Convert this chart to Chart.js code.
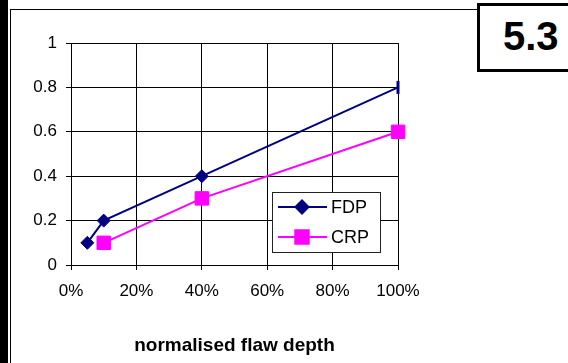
<!DOCTYPE html>
<html>
<head>
<meta charset="utf-8">
<script src="https://cdn.jsdelivr.net/npm/chart.js@4/dist/chart.umd.min.js"></script>
<style>
  html, body { margin: 0; padding: 0; background: #fff; }
  body { width: 568px; height: 363px; position: relative; overflow: hidden; }
  #edge { position: absolute; left: 0; top: 0; width: 8px; height: 363px; background: #000; }
  #frame { position: absolute; left: 10px; top: 9px; width: 700px; height: 500px;
           border-left: 1px solid #000; border-top: 1px solid #000; }
  #wrap { position: absolute; left: 0; top: 0; width: 568px; height: 363px; }
  #badge { position: absolute; left: 477px; top: 3px; width: 120px; height: 63px;
           border: 3px solid #000; background: #fff; z-index: 2;
           font: bold 40px "Liberation Sans", Arial, sans-serif; color: #000; }
  #badge span { position: absolute; left: 23px; top: 7px; line-height: 46px; }
</style>
</head>
<body>
<div id="edge"></div>
<div id="frame"></div>
<div id="wrap"><canvas id="c" width="568" height="363"></canvas></div>
<div id="badge"><span>5.3</span></div>
<script>
// normalised flaw depth (fraction) and values for each series
const fdpDepth = [0.05, 0.10, 0.40, 1.00];
const fdpValue = [0.1, 0.2, 0.4, 0.8];
const crpDepth = [0.10, 0.40, 1.00];
const crpValue = [0.1, 0.3, 0.6];

const xTickValues = [0, 0.2, 0.4, 0.6, 0.8, 1.0];
const xTickLabels = ['0%', '20%', '40%', '60%', '80%', '100%'];
const yTickValues = [0, 0.2, 0.4, 0.6, 0.8, 1.0];
const yTickLabels = ['0', '0.2', '0.4', '0.6', '0.8', '1'];

const seriesNames = ['FDP', 'CRP'];

const FONT = '"Liberation Sans", Arial, sans-serif';
const NAVY = '#000080';
const MAGENTA = '#FF00FF';

function toPoints(xs, ys) { return xs.map((x, i) => ({ x: x, y: ys[i] })); }

function labelFor(values, labels, v) {
  const i = values.findIndex(t => Math.abs(t - v) < 1e-6);
  return i >= 0 ? labels[i] : '';
}

// Boxed legend sitting inside the lower-right of the plot
const boxLegend = {
  id: 'boxLegend',
  afterDatasetsDraw(chart) {
    const { ctx, chartArea } = chart;
    const left = chartArea.right - 126, top = chartArea.bottom - 73;
    const w = 108, h = 60;
    ctx.save();
    ctx.fillStyle = '#fff';
    ctx.fillRect(left, top, w, h);
    ctx.strokeStyle = '#222';
    ctx.lineWidth = 1;
    ctx.strokeRect(left + 0.5, top + 0.5, w, h);
    chart.data.datasets.forEach((ds, i) => {
      const y = top + 15 + i * 30;
      ctx.strokeStyle = ds.borderColor;
      ctx.lineWidth = 2;
      ctx.beginPath();
      ctx.moveTo(left + 6, y);
      ctx.lineTo(left + 55, y);
      ctx.stroke();
      Chart.helpers.drawPoint(ctx, {
        pointStyle: ds.legendStyle,
        radius: ds.legendRadius,
        rotation: 0,
        borderWidth: 1
      }, left + 30, y);
      ctx.fillStyle = ds.backgroundColor;
      ctx.fill();
      ctx.fillStyle = '#000';
      ctx.font = '18px ' + FONT;
      ctx.textBaseline = 'middle';
      ctx.textAlign = 'left';
      ctx.fillText(ds.label, left + 59, y + 1);
    });
    ctx.restore();
  }
};

new Chart(document.getElementById('c'), {
  type: 'scatter',
  data: {
    datasets: [
      {
        label: seriesNames[0],
        data: toPoints(fdpDepth, fdpValue),
        showLine: true,
        clip: false,
        borderColor: NAVY,
        backgroundColor: NAVY,
        borderWidth: 2,
        pointStyle: ['rectRot', 'rectRot', 'rectRot', 'line'],
        pointRotation: [0, 0, 0, 90],
        pointRadius: 6.5,
        pointBorderWidth: [1, 1, 1, 3],
        pointBorderColor: NAVY,
        legendStyle: 'rectRot',
        legendRadius: 6.5
      },
      {
        label: seriesNames[1],
        data: toPoints(crpDepth, crpValue),
        showLine: true,
        clip: false,
        borderColor: MAGENTA,
        backgroundColor: MAGENTA,
        borderWidth: 2,
        pointStyle: 'rect',
        pointRadius: 9.5,
        pointBorderWidth: 1,
        pointBorderColor: MAGENTA,
        legendStyle: 'rect',
        legendRadius: 9.5
      }
    ]
  },
  options: {
    responsive: false,
    animation: false,
    layout: { padding: { left: 0, top: 43, right: 170, bottom: 0 } },
    plugins: { legend: { display: false }, tooltip: { enabled: false } },
    scales: {
      x: {
        type: 'linear',
        min: 0, max: 1,
        afterBuildTicks(scale) { scale.ticks = xTickValues.map(v => ({ value: v })); },
        afterFit(scale) {
          scale.height = 98;
          scale.paddingLeft = 0; scale.paddingRight = 0;
        },
        grid: { color: '#000', lineWidth: 1, tickLength: 5, drawTicks: true },
        border: { color: '#000', width: 1 },
        ticks: {
          color: '#000',
          font: { family: FONT, size: 17 },
          padding: 11,
          maxRotation: 0,
          callback: v => labelFor(xTickValues, xTickLabels, v)
        },
        title: {
          display: true,
          text: 'normalised flaw depth',
          color: '#000',
          font: { family: FONT, size: 19, weight: 'bold' },
          padding: { top: 0, bottom: 6 }
        }
      },
      y: {
        type: 'linear',
        min: 0, max: 1,
        afterBuildTicks(scale) { scale.ticks = yTickValues.map(v => ({ value: v })); },
        afterFit(scale) {
          scale.width = 71;
          scale.paddingTop = 0; scale.paddingBottom = 0;
        },
        grid: { color: '#000', lineWidth: 1, tickLength: 5, drawTicks: true },
        border: { color: '#000', width: 1 },
        ticks: {
          color: '#000',
          font: { family: FONT, size: 17 },
          padding: 9,
          callback: v => labelFor(yTickValues, yTickLabels, v)
        }
      }
    }
  },
  plugins: [boxLegend]
});
</script>
</body>
</html>
